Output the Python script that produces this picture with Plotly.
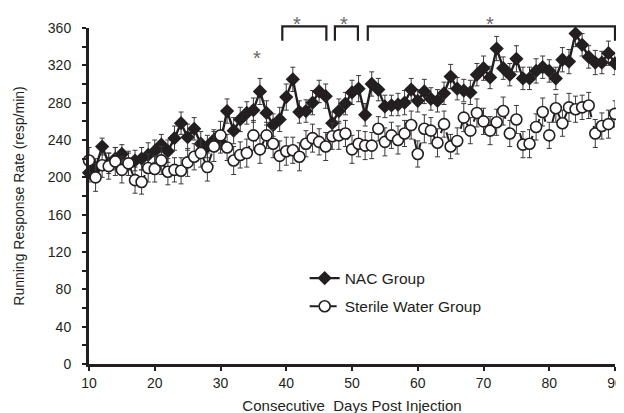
import plotly.graph_objects as go

days = list(range(10, 91))

nac_mean = [205, 210, 233, 215, 220, 225, 214, 218, 220, 224,
            228, 235, 228, 242, 258, 243, 252, 236, 233, 240,
            238, 271, 250, 262, 269, 272, 292, 269, 256, 262,
            286, 305, 270, 271, 280, 292, 287, 258, 271, 279,
            291, 295, 267, 300, 294, 276, 277, 278, 280, 294,
            282, 292, 284, 282, 290, 308, 295, 293, 291, 310,
            317, 307, 338, 317, 310, 327, 306, 306, 314, 318,
            314, 306, 326, 324, 354, 342, 329, 323, 323, 333,
            322]
nac_sem = [10, 10, 9, 11, 12, 10, 12, 11, 12, 13,
           12, 11, 12, 13, 12, 14, 12, 13, 12, 11,
           12, 13, 14, 13, 12, 13, 14, 13, 12, 13,
           14, 13, 12, 12, 13, 12, 13, 12, 13, 12,
           13, 14, 12, 13, 12, 12, 11, 12, 13, 12,
           12, 13, 12, 12, 12, 13, 12, 12, 13, 12,
           13, 12, 13, 12, 12, 14, 12, 12, 13, 12,
           12, 12, 13, 13, 14, 12, 12, 13, 12, 13,
           12]

water_mean = [218, 200, 213, 212, 217, 208, 215, 197, 195, 210,
              209, 218, 206, 208, 207, 216, 222, 226, 211, 233,
              245, 232, 218, 224, 226, 245, 230, 245, 236, 223,
              228, 229, 222, 236, 242, 238, 233, 244, 245, 247,
              230, 236, 234, 234, 252, 238, 245, 240, 247, 256,
              225, 252, 250, 237, 257, 233, 239, 264, 250, 269,
              260, 250, 259, 271, 247, 262, 235, 236, 254, 270,
              245, 274, 258, 275, 273, 275, 277, 247, 255, 257,
              268]
water_sem = [14, 15, 13, 14, 15, 14, 13, 14, 13, 15,
             14, 15, 14, 13, 14, 15, 14, 15, 15, 16,
             15, 14, 15, 14, 15, 16, 15, 14, 15, 16,
             15, 14, 15, 14, 15, 14, 15, 14, 15, 14,
             15, 14, 15, 14, 13, 15, 14, 15, 14, 15,
             14, 15, 14, 15, 14, 13, 14, 15, 14, 15,
             14, 15, 14, 15, 14, 15, 14, 15, 14, 15,
             14, 15, 14, 15, 14, 13, 14, 15, 14, 15,
             14]

y_ticks = list(range(0, 361, 40))
x_ticks = list(range(10, 91, 10))

# significance brackets (day spans) and single-day asterisk
brackets = [(39.4, 46.1), (47.4, 50.9), (52.4, 90.0)]
bracket_star_days = [41.7, 48.8, 71.0]
single_star_day = 35.5

INK = "#231f20"
FONT = "Liberation Sans, Arial, Helvetica, sans-serif"
XMIN, XMAX = 10, 90

fig = go.Figure()

fig.add_trace(go.Scatter(
    x=days, y=nac_mean, name="NAC Group", mode="lines+markers",
    line=dict(color=INK, width=2.4),
    marker=dict(symbol="diamond", size=11, color=INK, line=dict(color=INK, width=0)),
    error_y=dict(type="data", array=nac_sem, color="#3a3a3a", thickness=1, width=2.5),
    cliponaxis=False, legendgroup="a",
))
fig.add_trace(go.Scatter(
    x=days, y=water_mean, name="Sterile Water Group", mode="lines+markers",
    line=dict(color=INK, width=2, dash="dash"),
    marker=dict(symbol="circle", size=11, color="white", line=dict(color=INK, width=1.6)),
    error_y=dict(type="data", array=water_sem, color="#3a3a3a", thickness=1, width=2.5),
    cliponaxis=False, legendgroup="b",
))

def to_paper(d):
    return (d - XMIN) / (XMAX - XMIN)

shapes = []
for (a, b) in brackets:
    xa, xb = to_paper(a), to_paper(b)
    shapes.append(dict(type="path", xref="paper", yref="paper",
                       path=f"M {xa},0.962 L {xa},1.005 L {xb},1.005 L {xb},0.962",
                       line=dict(color=INK, width=2.2)))

STAR_FONT = dict(size=20, color="#666666", family=FONT)
annotations = []
for d in bracket_star_days:
    annotations.append(dict(x=d, y=1.05, xref="x", yref="paper", text="*",
                            showarrow=False, font=STAR_FONT))
annotations.append(dict(x=single_star_day, y=0.948, xref="x", yref="paper", text="*",
                        showarrow=False, font=STAR_FONT))

fig.update_layout(
    width=624, height=413,
    margin=dict(l=81, r=9, t=20, b=54),
    paper_bgcolor="white", plot_bgcolor="white",
    font=dict(family=FONT, size=14, color=INK),
    showlegend=True,
    legend=dict(x=0.41, y=0.305, xanchor="left", yanchor="top",
                bgcolor="rgba(0,0,0,0)", font=dict(size=15.5, color=INK),
                traceorder="grouped", tracegroupgap=5),
    shapes=shapes, annotations=annotations,
)
fig.update_xaxes(range=[XMIN, XMAX], tickvals=x_ticks, ticks="outside", ticklen=4,
                 tickwidth=2, tickcolor=INK, showline=True, linecolor=INK, linewidth=3,
                 showgrid=False, zeroline=False,
                 title=dict(text="Consecutive\u00a0 Days Post Injection", standoff=11,
                            font=dict(size=15, color=INK)))
fig.update_yaxes(range=[0, 360], tickvals=y_ticks, ticks="outside", ticklen=4,
                 tickwidth=2, tickcolor=INK, showline=True, linecolor=INK, linewidth=3,
                 showgrid=False, zeroline=False, ticklabelstandoff=8,
                 minor=dict(dtick=20, ticks="outside", ticklen=4, tickwidth=2, tickcolor=INK),
                 title=dict(text="Running Response Rate (resp/min)", standoff=20,
                            font=dict(size=14, color=INK)))

fig.write_html("out.html")
